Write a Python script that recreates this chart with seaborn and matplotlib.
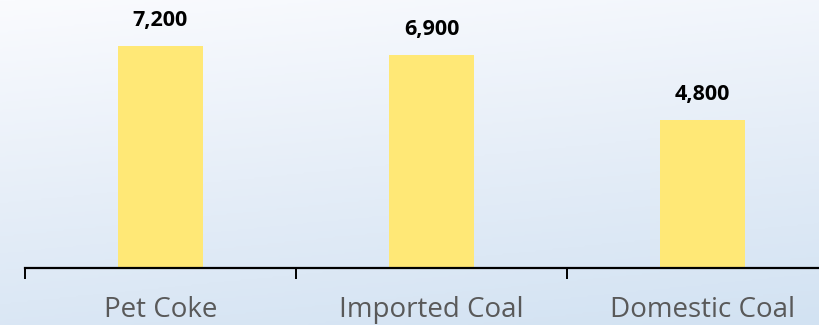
import numpy as np
import pandas as pd
import matplotlib
matplotlib.use("Agg")
import matplotlib.pyplot as plt
from matplotlib.colors import LinearSegmentedColormap
import seaborn as sns

categories = ["Pet Coke", "Imported Coal", "Domestic Coal"]
values = [7200, 6900, 4800]
value_labels = ["7,200", "6,900", "4,800"]

sns.set_theme(style="white")
plt.rcParams['font.family'] = ['Open Sans', 'DejaVu Sans']

fig = plt.figure(figsize=(8.2, 3.25), dpi=100)

# gradient background
bg = fig.add_axes([0, 0, 1, 1], zorder=0)
bg.set_axis_off()
yy, xx = np.mgrid[0:1:200j, 0:1:300j]
grad = 0.8 * yy + 0.2 * xx
cmap = LinearSegmentedColormap.from_list("bg", ["#FAFBFE", "#E6EEF8", "#D2E2F2"])
bg.imshow(grad, cmap=cmap, aspect="auto", extent=[0, 1, 0, 1], origin="upper", vmin=0, vmax=1)

left = 25 / 820
width = (3 * 271) / 820
bottom = 57 / 325
height = 268 / 325
ax = fig.add_axes([left, bottom, width, height], zorder=1)
ax.patch.set_alpha(0)

df = pd.DataFrame({"cat": categories, "val": values})
sns.barplot(data=df, x="cat", y="val", order=categories, color="#FFE876",
            saturation=1, width=0.314, linewidth=0, edgecolor="none", ax=ax)

ymax = 7200 * 268 / 222
ax.set_ylim(0, ymax)
ax.set_xlim(-0.5, 2.5)

for i, (v, lab) in enumerate(zip(values, value_labels)):
    ax.annotate(lab, (i, v), xytext=(0, 15), textcoords="offset pixels",
                ha="center", va="bottom", fontsize=15.5, fontweight="bold", color="#000000")

for s in ["top", "right", "left"]:
    ax.spines[s].set_visible(False)
ax.spines["bottom"].set_linewidth(1.6)
ax.spines["bottom"].set_color("#000000")

ax.set_yticks([])
ax.set_xticks([-0.5, 0.5, 1.5, 2.5])
ax.set_xticklabels([])
ax.tick_params(axis="x", which="major", direction="out", length=8, width=1.4, color="#000000", bottom=True)
ax.set_xticks([0, 1, 2], minor=True)
ax.set_xticklabels(categories, minor=True, fontsize=20, color="#595959")
ax.tick_params(axis="x", which="minor", length=0, pad=20)
ax.set_xlabel("")
ax.set_ylabel("")

fig.savefig("out.png", dpi=100)
